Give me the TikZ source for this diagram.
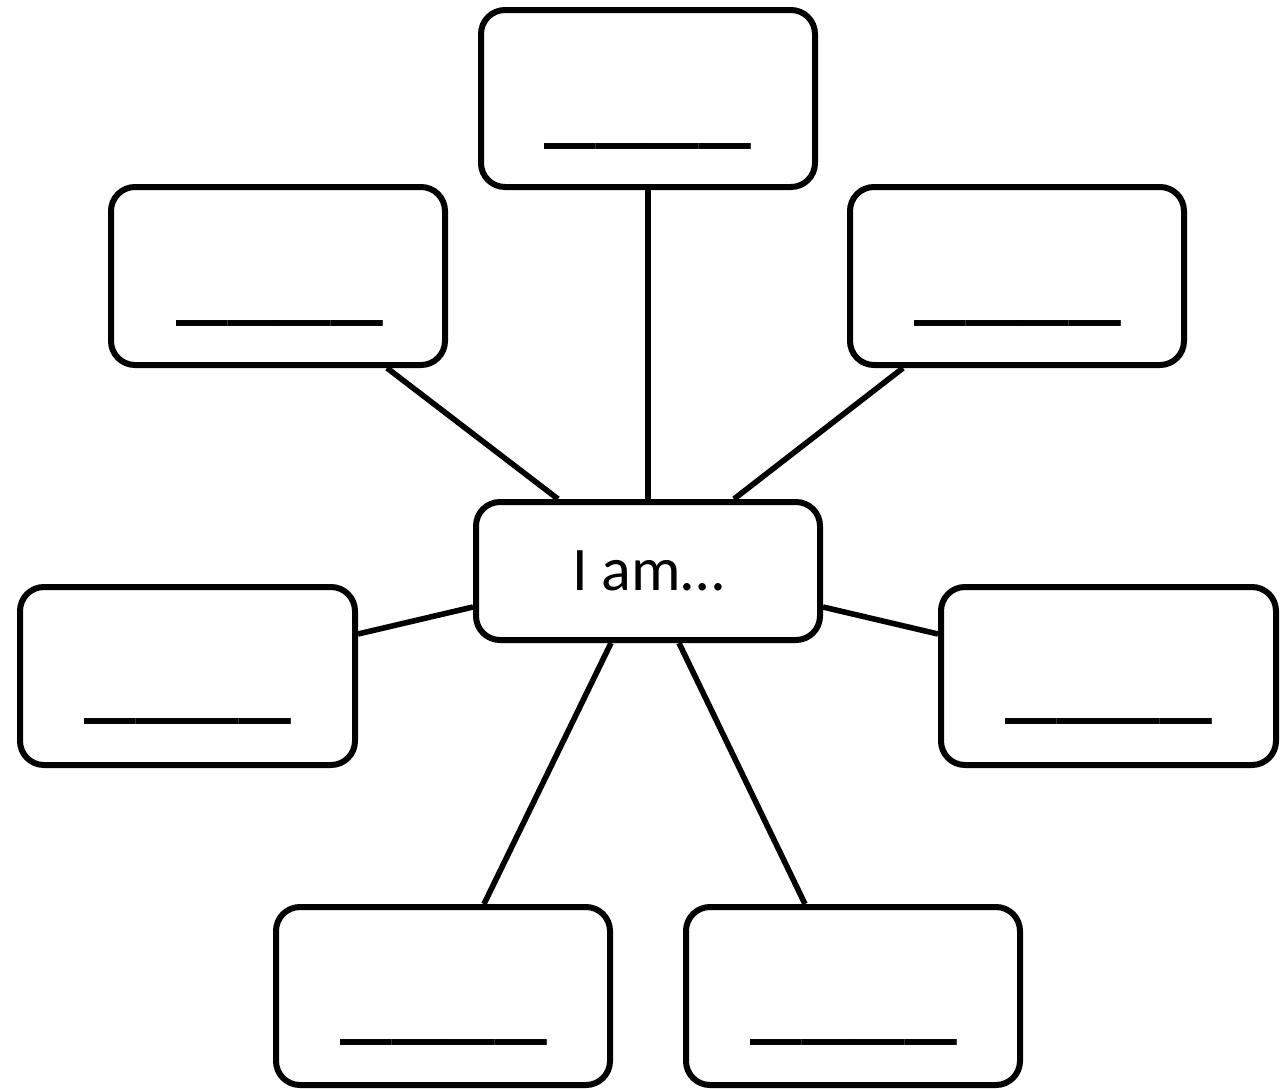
\documentclass[tikz,border=0pt]{standalone}
\usepackage{fontspec}
\setmainfont{Carlito}
\usetikzlibrary{calc}
\tikzset{
  card/.style={draw=black, line width=3pt, rounded corners=12pt, fill=white, inner sep=0pt},
  link/.style={draw=black, line width=2.8pt},
  blank/.style={inner sep=0pt, anchor=base, font=\fontsize{52}{52}\selectfont},
}
\begin{document}
\begin{tikzpicture}[x=0.5pt,y=-0.5pt]
\useasboundingbox[fill=white] (0,0) rectangle (1286,1088);
% boxes
\node[card, minimum width=167pt, minimum height=88.5pt] (top) at (648,98.5) {};
\node[card, minimum width=167pt, minimum height=89pt] (ul) at (278,276) {};
\node[card, minimum width=167pt, minimum height=89pt] (ur) at (1017,276) {};
\node[card, minimum width=172pt, minimum height=69pt, font=\fontsize{31}{31}\selectfont] (c) at (648,571) {I am…};
\node[card, minimum width=167.5pt, minimum height=89pt] (l) at (187.5,676) {};
\node[card, minimum width=167.5pt, minimum height=89pt] (r) at (1108.5,676) {};
\node[card, minimum width=167pt, minimum height=89pt] (bl) at (443,996) {};
\node[card, minimum width=167pt, minimum height=89pt] (br) at (853,996) {};
% blanks
\node[blank] (topb) at (648,135) {\_\_\_\_};
\node[blank] (ulb) at (280,312) {\_\_\_\_};
\node[blank] (urb) at (1018,312) {\_\_\_\_};
\node[blank] (lb) at (188,710) {\_\_\_\_};
\node[blank] (rb) at (1109,710) {\_\_\_\_};
\node[blank] (blb) at (444,1031) {\_\_\_\_};
\node[blank] (brb) at (854,1031) {\_\_\_\_};
% connectors
\draw[link] (top.south) -- (c.north);
\draw[link] ($(ul.south west)+(279,0)$) -- ($(c.north west)+(85,0)$);
\draw[link] ($(ur.south west)+(56,0)$) -- ($(c.north west)+(261,0)$);
\draw[link] ($(l.north east)+(0,50)$) -- ($(c.north west)+(0,108)$);
\draw[link] ($(r.north west)+(0,50)$) -- ($(c.north east)+(0,108)$);
\draw[link] ($(bl.north west)+(211,0)$) -- ($(c.south west)+(138,0)$);
\draw[link] ($(br.north west)+(122,0)$) -- ($(c.south west)+(206,0)$);
\end{tikzpicture}
\end{document}
